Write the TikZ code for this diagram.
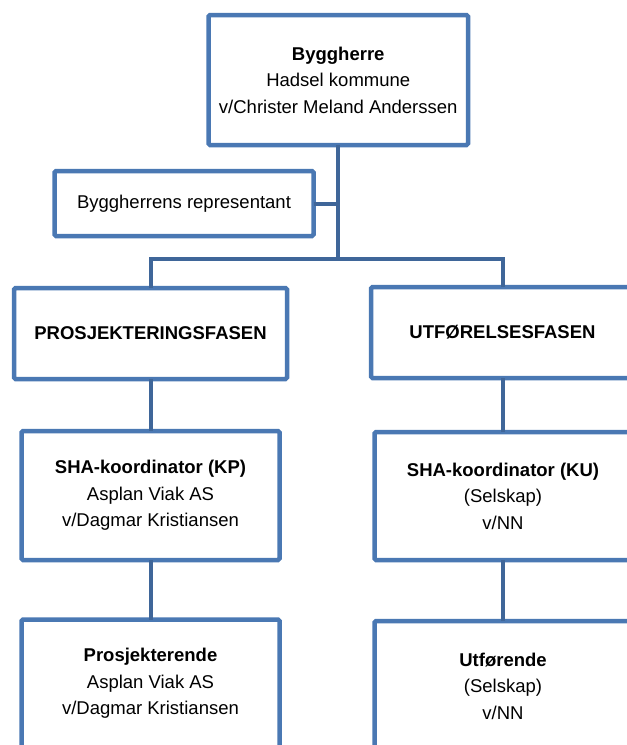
\documentclass[tikz,border=0pt]{standalone}
\usepackage{fontspec}
\setmainfont{Liberation Sans}
\definecolor{boxblue}{HTML}{4A78B3}
\definecolor{connblue}{HTML}{3F6699}
\begin{document}
\begin{tikzpicture}[x=1pt,y=-1pt,
  orgbox/.style={draw=boxblue, line width=4.5pt, fill=white, rounded corners=1.5pt,
    inner sep=0pt, outer sep=0pt, align=center,
    font=\fontsize{18.5}{26.5}\selectfont},
  conn/.style={draw=connblue, line width=4pt}]
\useasboundingbox (0,0) rectangle (627,745);
\clip (0,0) rectangle (627,745);
\coordinate (j) at (338.25,259);
\node[orgbox, minimum width=259.5pt, minimum height=130pt] (top) at (338.25,80)
  {\textbf{Byggherre}\\Hadsel kommune\\v/Christer Meland Anderssen};
\node[orgbox, minimum width=259pt, minimum height=65pt] (rep) at (184,203.5)
  {Byggherrens representant};
\node[orgbox, minimum width=273pt, minimum height=91pt] (pro) at (150.5,333.5)
  {\textbf{PROSJEKTERINGSFASEN}};
\node[orgbox, minimum width=263pt, minimum height=91pt] (utf) at (502.5,332.5)
  {\textbf{UTFØRELSESFASEN}};
\node[orgbox, minimum width=258pt, minimum height=129pt] (kp) at (150.5,495.5)
  {\textbf{SHA-koordinator (KP)}\\Asplan Viak AS\\v/Dagmar Kristiansen};
\node[orgbox, minimum width=257pt, minimum height=128pt] (ku) at (503,496)
  {\textbf{SHA-koordinator (KU)}\\(Selskap)\\v/NN};
\node[orgbox, minimum width=258pt, minimum height=128pt] (prj) at (150.5,683.5)
  {\textbf{Prosjekterende}\\Asplan Viak AS\\v/Dagmar Kristiansen};
\node[orgbox, minimum width=257pt, minimum height=130pt] (ufr) at (503,686)
  {\textbf{Utførende}\\(Selskap)\\v/NN};
\draw[conn] (top.south) -- (j);
\draw[conn] (rep.east) -- (rep.east -| j);
\draw[conn] (pro.north) |- (j) -| (utf.north);
\draw[conn] (pro.south) -- (pro.south |- kp.north);
\draw[conn] (utf.south) -- (utf.south |- ku.north);
\draw[conn] (kp.south) -- (kp.south |- prj.north);
\draw[conn] (ku.south) -- (ku.south |- ufr.north);
\end{tikzpicture}
\end{document}
